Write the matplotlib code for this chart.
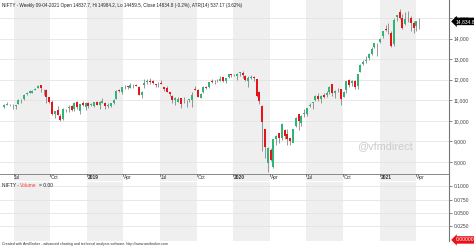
import numpy as np
import pandas as pd
import matplotlib
matplotlib.use('Agg')
import matplotlib.pyplot as plt
import matplotlib.dates as mdates

plt.rcParams['font.family'] = ['Liberation Sans', 'DejaVu Sans']

# weekly NIFTY bars, 08-06-2018 .. 09-04-2021
dates = pd.date_range('2018-06-08', periods=149, freq='W-FRI')
opens = [
    10689, 10781, 10800, 10742, 10732, 10816, 11019, 11056, 11313, 11371, 11370, 11502, 11605, 11751, 11524,
    11515, 11164, 10930, 10331, 10521, 10246, 10079, 10558, 10614, 10731, 10576, 10931, 10488, 10853, 10663,
    10882, 10771, 10718, 10907, 10780, 10877, 10867, 10742, 10701, 10880, 11068, 11515, 11395, 11665, 11701,
    11612, 11727, 11725, 11641, 11278, 11725, 11882, 11953, 11945, 11769, 11768, 11839, 11636, 11588, 11392,
    11224, 11006, 10926, 11094, 11000, 10960, 11003, 10996, 11542, 11491, 11127, 11381, 11657, 11627, 11941,
    11913, 11916, 11932, 12137, 11939, 12133, 12273,
    12247, 12170, 12329, 12329, 12197, 11940, 12102, 12131, 12013, 11388, 10723, 9587, 7946, 8585, 7736,
    9103, 9391, 9165, 9533, 9376, 9158, 8946, 9726, 10326, 9919, 10319, 10324, 10723, 10851, 10993, 11225,
    11058, 11267, 11248, 11419, 11777, 11359, 11503, 11557, 11163, 11503, 11973, 11834, 11937, 11698, 12399,
    12780, 12926, 13064, 13264, 13571, 13742, 13815,
    14104, 14474, 14371, 14290, 13758, 15064, 15271, 14999, 14702, 15065, 14996, 14736, 14628, 14837.7]
highs = [
    10818, 10893, 10838, 10842, 10786, 11078, 11044, 11283, 11391, 11496, 11487, 11621, 11760, 11752, 11546,
    11543, 11170, 11035, 10492, 10711, 10320, 10606, 10600, 10775, 10761, 10922, 10942, 10815, 10985, 10894,
    10923, 10870, 10930, 10987, 10984, 11119, 10910, 10845, 10888, 11058, 11487, 11546, 11630, 11761, 11710,
    11856, 11800, 11789, 11689, 11427, 12041, 12039, 12103, 11975, 11814, 11871, 11981, 11651, 11670, 11422,
    11242, 11181, 11146, 11099, 11143, 10996, 11085, 11382, 11695, 11534, 11344, 11670, 11697, 11907, 12034,
    11973, 12038, 12158, 12138, 12098, 12294, 12287,
    12293, 12311, 12389, 12430, 12216, 12161, 12247, 12159, 12023, 11434, 10751, 9602, 8749, 8678, 9131,
    9324, 9390, 9890, 9590, 9585, 9178, 9599, 10177, 10328, 10272, 10553, 10631, 10847, 10934, 11240, 11341,
    11256, 11374, 11460, 11687, 11794, 11493, 11618, 11560, 11463, 11939, 12025, 11981, 11975, 12290, 12769,
    12963, 13145, 13280, 13579, 13773, 13777, 14024,
    14367, 14654, 14754, 14350, 14983, 15168, 15432, 15176, 15273, 15336, 15092, 14878, 14877, 14984.2]
lows = [
    10628, 10753, 10699, 10557, 10594, 10798, 10880, 11034, 11234, 11347, 11359, 11493, 11594, 11393, 11250,
    10867, 10850, 10262, 10139, 10302, 10005, 10021, 10440, 10440, 10490, 10488, 10588, 10333, 10738, 10535,
    10629, 10739, 10692, 10765, 10584, 10847, 10586, 10620, 10682, 10817, 11057, 11391, 11311, 11559, 11549,
    11611, 11578, 11680, 11256, 11108, 11591, 11769, 11769, 11769, 11625, 11652, 11777, 11462, 11399, 11211,
    10848, 10783, 10902, 10637, 10852, 10671, 10910, 10670, 11490, 11158, 11090, 11370, 11541, 11600, 11852,
    11802, 11877, 11926, 11888, 11832, 12101, 12154,
    12158, 11974, 12201, 12087, 11929, 11633, 12013, 11949, 11175, 10827, 8555, 8176, 7511, 8055, 7713,
    8822, 8909, 9066, 9117, 8807, 8806, 8969, 9705, 9544, 9727, 10194, 10223, 10676, 10563, 10982, 10956,
    10882, 11112, 11144, 11326, 11185, 11111, 11383, 10790, 11151, 11347, 11661, 11686, 11536, 11557, 12368,
    12730, 12790, 12962, 13214, 13533, 13131, 13778,
    14040, 14357, 14222, 13597, 13662, 14865, 14933, 14468, 14636, 14816, 14350, 14264, 14359, 14459.5]
closes = [
    10768, 10818, 10822, 10714, 10773, 11019, 11010, 11278, 11361, 11430, 11471, 11558, 11681, 11590, 11516,
    11143, 10930, 10316, 10473, 10303, 10030, 10553, 10585, 10682, 10527, 10877, 10694, 10805, 10754, 10860,
    10727, 10795, 10907, 10780, 10894, 10944, 10724, 10792, 10864, 11035, 11427, 11457, 11624, 11666, 11643,
    11753, 11755, 11712, 11279, 11407, 11844, 11923, 11871, 11823, 11724, 11789, 11811, 11552, 11419, 11284,
    10997, 11109, 11048, 10829, 11023, 10946, 11076, 11274, 11512, 11174, 11305, 11662, 11584, 11891, 11908,
    11895, 11914, 12056, 11922, 12087, 12272, 12246,
    12226, 12257, 12352, 12248, 11962, 12098, 12113, 12080, 11202, 10989, 9955, 8745, 8660, 8084, 9112,
    9267, 9154, 9860, 9252, 9137, 9039, 9580, 10142, 9973, 10244, 10383, 10608, 10768, 10902, 11194, 11073,
    11214, 11178, 11372, 11647, 11333, 11464, 11505, 11050, 11417, 11914, 11762, 11930, 11642, 12264, 12720,
    12859, 12969, 13258, 13514, 13761, 13749, 13982,
    14347, 14433, 14372, 13635, 14924, 15163, 14982, 14529, 14938, 15031, 14744, 14507, 14867, 14834.8]

price_ticks = [8000, 9000, 10000, 11000, 12000, 13000, 14000, 15000]
vol_ticks = [0.025, 0.05, 0.075, 0.1]
vol_tick_labels = ['0.0250', '0.0500', '0.0750', '0.1000']
tick_dates = ['2018-07-01', '2018-10-01', '2019-01-01', '2019-04-01', '2019-07-01', '2019-10-01',
              '2020-01-01', '2020-04-01', '2020-07-01', '2020-10-01', '2021-01-01', '2021-04-01']
tick_labels = ['Jul', 'Oct', '2019', 'Apr', 'Jul', 'Oct', '2020', 'Apr', 'Jul', 'Oct', '2021', 'Apr']
shaded = [('2018-07-01', '2018-10-01'), ('2019-01-01', '2019-04-01'), ('2019-07-01', '2019-10-01'),
          ('2020-01-01', '2020-04-01'), ('2020-07-01', '2020-10-01'), ('2021-01-01', '2021-04-01')]

W, H = 474, 247
fig = plt.figure(figsize=(W / 100, H / 100), dpi=100)
fig.patch.set_facecolor('white')

ax = fig.add_axes([0, 1 - 181 / H, 449 / W, 181 / H])
axv = fig.add_axes([0, 1 - 241 / H, 449 / W, 59 / H])

x = mdates.date2num(dates)
o = np.array(opens); h = np.array(highs); l = np.array(lows); c = np.array(closes)
up = c >= o
green, red = '#2fb577', '#e8121a'

x0 = mdates.date2num(pd.Timestamp('2018-07-01')) - 13.5 / 0.4005
x1 = x0 + 449 / 0.4005

for a in (ax, axv):
    for s, e in shaded:
        a.axvspan(mdates.date2num(pd.Timestamp(s)), mdates.date2num(pd.Timestamp(e)),
                  color='#efefef', lw=0, zorder=0)
    a.set_xlim(x0, x1)
    a.set_xticks([])
    for sp in ('top', 'left', 'bottom'):
        a.spines[sp].set_visible(False)
    a.spines['right'].set_color('#777777')
    a.spines['right'].set_linewidth(0.8)
    a.set_facecolor('none')
    a.yaxis.tick_right()
    a.tick_params(axis='y', length=2, width=0.5, color='#555555', labelsize=3.6,
                  labelcolor='#444444', pad=1.5)

# price pane
ax.set_ylim(7076, 15875)
ax.set_yticks(price_ticks)
ax.set_yticklabels([f'{v:,}' for v in price_ticks])
for v in price_ticks:
    ax.axhline(v, color='#e4e4e4', lw=0.6, zorder=1)

ax.vlines(x, l, h, color='#707070', lw=0.5, zorder=2)
ax.bar(x[up], c[up] - o[up], bottom=o[up], width=5.0, color=green, lw=0, zorder=3)
ax.bar(x[~up], o[~up] - c[~up], bottom=c[~up], width=5.0, color=red, lw=0, zorder=3)

# date strip
ax.axhline(7417, color='#888888', lw=0.7, zorder=4)
ax.axhline(7090, color='#888888', lw=0.7, zorder=4)
for d, lab in zip(tick_dates, tick_labels):
    xd = mdates.date2num(pd.Timestamp(d))
    ax.plot([xd, xd], [7417, 7300], color='#555555', lw=0.5, zorder=4)
    ax.text(xd + 2, 7250, lab, fontsize=3.5, va='center', ha='left', color='#333333',
            fontweight='bold' if lab.isdigit() else 'normal', zorder=5)

ax.text(0.004, 0.982, 'NIFTY - Weekly 09-04-2021 Open 14837.7, Hi 14984.2, Lo 14459.5, '
        'Close 14834.8 (-0.2%), ATR(14) 537.17 (3.62%)',
        transform=ax.transAxes, fontsize=3.3, va='top', ha='left', color='#222222')
ax.text(385 / 449, 0.193, '@vfmdirect', transform=ax.transAxes, fontsize=7.8,
        color='#cccccc', ha='center', va='center')

ax.annotate('14,834.8', xy=(1.0, 14834.8), xycoords=('axes fraction', 'data'),
            xytext=(4.5, 0), textcoords='offset points', fontsize=3.6, color='white',
            va='center', ha='left', annotation_clip=False, zorder=6,
            bbox=dict(boxstyle='larrow,pad=0.25', fc='black', ec='black', lw=0))

# volume pane
axv.set_ylim(-0.002, 0.1075)
axv.set_yticks(vol_ticks)
axv.set_yticklabels(vol_tick_labels)
for v in vol_ticks:
    axv.axhline(v, color='#e4e4e4', lw=0.6, zorder=1)
t1 = axv.text(0.004, 0.99, 'NIFTY -', transform=axv.transAxes, fontsize=3.5, va='top',
              ha='left', color='#222222')
t2 = axv.annotate('Volume', xy=(1, 0), xycoords=t1, xytext=(1.2, 0), textcoords='offset points',
                  fontsize=3.5, va='bottom', ha='left', color='#ff4040')
axv.annotate('= 0.00', xy=(1, 0), xycoords=t2, xytext=(1.2, 0), textcoords='offset points',
             fontsize=3.5, va='bottom', ha='left', color='#222222')
axv.annotate('0.00000', xy=(1.0, 0.0), xycoords=('axes fraction', 'data'),
             xytext=(4.5, 0), textcoords='offset points', fontsize=3.6, color='white',
             va='center', ha='left', annotation_clip=False,
             bbox=dict(boxstyle='larrow,pad=0.25', fc='#e8121a', ec='#e8121a', lw=0))

fig.text(2 / W, 1 - 243.5 / H, 'Created with AmiBroker - advanced charting and technical analysis '
         'software. http://www.amibroker.com', fontsize=2.6, va='center', ha='left',
         color='#333333')

fig.savefig('out.png', dpi=100)
